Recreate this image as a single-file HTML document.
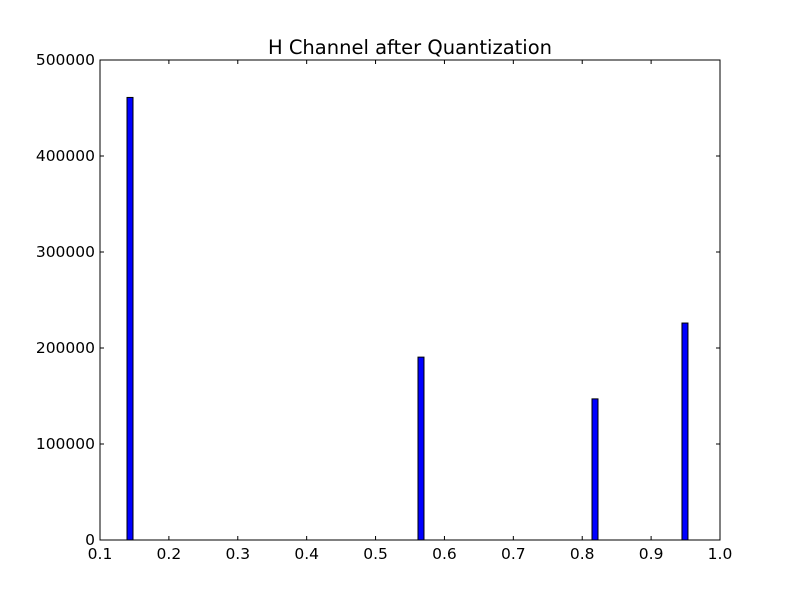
<!DOCTYPE html>
<html><head><meta charset="utf-8"><style>
body{margin:0;background:#fff;}
text{font-family:"DejaVu Sans","Liberation Sans",sans-serif;}
</style></head><body>
<svg id="chart" width="800" height="600" xmlns="http://www.w3.org/2000/svg">
<rect width="800" height="600" fill="#fff"/>
<text x="410" y="54" font-size="19.5" text-anchor="middle">H Channel after Quantization</text>
<g id="bars"></g>
<g id="ticks"></g>
<rect x="100" y="60" width="620" height="480" fill="none" stroke="#000" stroke-width="1"/>
</svg>
<script>
const binLefts=[0.1392,0.5616,0.8142,0.9448];
const counts=[461000,190500,147000,226000];
const binWidth=0.0087;
const xTicks=["0.1","0.2","0.3","0.4","0.5","0.6","0.7","0.8","0.9","1.0"];
const yTicks=["0","100000","200000","300000","400000","500000"];
const L=100,R=720,T=60,B=540;
const sx=v=>L+(v-0.1)/0.9*(R-L);
const sy=v=>B-v/500000*(B-T);
const NS="http://www.w3.org/2000/svg";
const bars=document.getElementById('bars');
binLefts.forEach((x,i)=>{
  const r=document.createElementNS(NS,'rect');
  
  
  const x0=sx(x),x1=sx(x+binWidth);
  r.setAttribute('x',x0);r.setAttribute('width',x1-x0);
  r.setAttribute('y',sy(counts[i]));r.setAttribute('height',B-sy(counts[i]));
  r.setAttribute('fill','#0000ff');r.setAttribute('stroke','#000');r.setAttribute('stroke-width','1');
  bars.appendChild(r);
});
const tk=document.getElementById('ticks');
function line(x1,y1,x2,y2){const l=document.createElementNS(NS,'line');l.setAttribute('x1',x1);l.setAttribute('y1',y1);l.setAttribute('x2',x2);l.setAttribute('y2',y2);l.setAttribute('stroke','#000');tk.appendChild(l);return l;}
xTicks.forEach(s=>{
  const x=sx(parseFloat(s));
  line(x,B,x,B-4);line(x,T,x,T+4);
  const t=document.createElementNS(NS,'text');
  
  
  t.setAttribute('x',x);t.setAttribute('y',B+19);t.setAttribute('font-size','15.5');t.setAttribute('text-anchor','middle');
  t.textContent=s;tk.appendChild(t);
});
yTicks.forEach(s=>{
  const y=sy(parseFloat(s));
  line(L,y,L+4,y);line(R,y,R-4,y);
  const t=document.createElementNS(NS,'text');
  
  
  t.setAttribute('x',L-5);t.setAttribute('y',y+5);t.setAttribute('font-size','15.5');t.setAttribute('text-anchor','end');
  t.textContent=s;tk.appendChild(t);
});
</script>
</body></html>
